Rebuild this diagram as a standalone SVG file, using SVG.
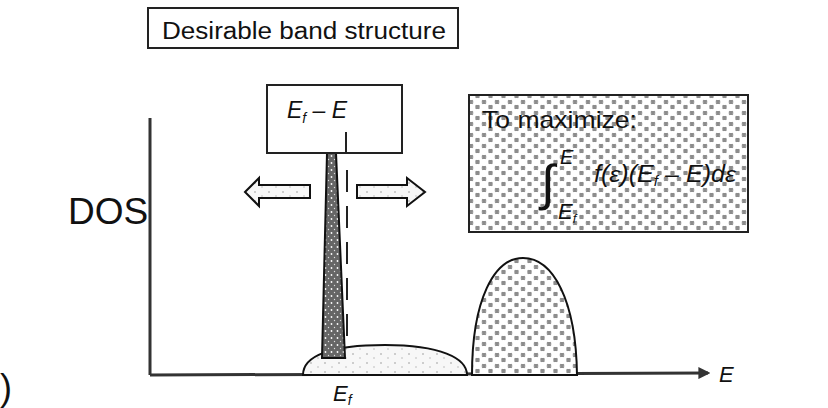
<svg xmlns="http://www.w3.org/2000/svg" width="828" height="408" viewBox="0 0 828 408">
<style>
.t{font-family:"Liberation Sans",Arial,sans-serif;fill:#111}
.it{font-style:italic}
.box{fill:#fff;stroke:#222;stroke-width:2}
.ax{stroke:#333;stroke-width:3;fill:none}
.sh{stroke:#111;stroke-width:2}
</style>
<defs>
<pattern id="hatch" width="13" height="11" patternUnits="userSpaceOnUse">
<rect width="13" height="11" fill="#fff"/>
<path d="M1 1.5 l4 3 M5 1.5 l-4 3 M3 1 v4 M7.5 6.5 l4 3 M11.5 6.5 l-4 3 M9.5 6 v4" stroke="#8c8c8c" stroke-width="1.8"/>
</pattern>
<pattern id="dark" width="6" height="7" patternUnits="userSpaceOnUse">
<rect width="6" height="7" fill="#666"/>
<circle cx="1.5" cy="2" r="0.9" fill="#fff"/>
<circle cx="4.5" cy="5.5" r="0.7" fill="#ddd"/>
</pattern>
<pattern id="speck" width="14" height="9" patternUnits="userSpaceOnUse">
<rect width="14" height="9" fill="#f7f7f7"/>
<circle cx="3" cy="3" r="0.8" fill="#999"/>
<circle cx="10" cy="7" r="0.7" fill="#aaa"/>
</pattern>
<marker id="ah" viewBox="0 0 10 10" refX="8" refY="5" markerWidth="4" markerHeight="4" orient="auto" markerUnits="strokeWidth">
<path d="M0 0 L10 5 L0 10 Z" fill="#333"/>
</marker>
</defs>

<g id="connectors">
<line class="ax" x1="150" y1="118" x2="150" y2="375"/>
<line class="ax" x1="150" y1="375" x2="708" y2="373" marker-end="url(#ah)"/>
<line x1="347" y1="170" x2="347" y2="356" stroke="#222" stroke-width="2" stroke-dasharray="22 14"/>
</g>

<g id="title">
<rect class="box" x="148" y="8" width="310" height="40"/>
<text class="t" x="162" y="39" font-size="23" textLength="284" lengthAdjust="spacingAndGlyphs">Desirable band structure</text>
</g>

<g id="dos-label">
<text class="t" x="68" y="224" font-size="37">DOS</text>
<text class="t" x="0" y="400" font-size="36">)</text>
</g>

<g id="bump">
<path class="sh" d="M303,375 C303,356 330,345 385,345 C440,345 467,358 467,375 Z" fill="url(#speck)"/>
</g>

<g id="peak">
<path class="sh" d="M327,153 L336,153 L345,358 L322,358 Z" fill="url(#dark)"/>
</g>

<g id="dome">
<path class="sh" d="M472,375 C472,300 494,258 523,258 C553,258 576,300 577,375 Z" fill="url(#hatch)"/>
</g>

<g id="energy-box">
<rect class="box" x="267" y="85" width="135" height="68"/>
<line x1="346" y1="132" x2="346" y2="153" stroke="#222" stroke-width="2"/>
<text class="t it" x="287" y="118" font-size="23">E<tspan font-size="14" dy="5">f</tspan><tspan dy="-5"> – E</tspan></text>
</g>

<g id="arrow-left">
<path class="sh" d="M245,192 L259,178 L259,185 L310,185 L310,198 L259,198 L259,206 Z" fill="url(#speck)"/>
</g>
<g id="arrow-right">
<path class="sh" d="M357,185 L407,185 L407,178 L425,192 L407,206 L407,198 L357,198 Z" fill="url(#speck)"/>
</g>

<g id="maximize-box">
<rect x="469" y="95" width="279" height="137" fill="url(#hatch)" stroke="#222" stroke-width="2"/>
<text class="t" x="482" y="128" font-size="24" textLength="155" lengthAdjust="spacingAndGlyphs">To maximize:</text>
<text class="t" x="541" y="200" font-size="50" font-family="Liberation Serif">∫</text>
<text class="t it" x="560" y="164" font-size="20">E</text>
<text class="t it" x="558" y="219" font-size="22">E<tspan font-size="13" dy="4">f</tspan></text>
<text class="t it" x="594" y="182" font-size="23" textLength="142" lengthAdjust="spacingAndGlyphs">f(ε)(E<tspan font-size="14" dy="4">f</tspan><tspan dy="-4"> – E)dε</tspan></text>
</g>

<g id="axis-labels">
<text class="t it" x="719" y="382" font-size="22">E</text>
<text class="t it" x="333" y="401" font-size="22">E<tspan font-size="14" dy="4">f</tspan></text>
</g>
</svg>
